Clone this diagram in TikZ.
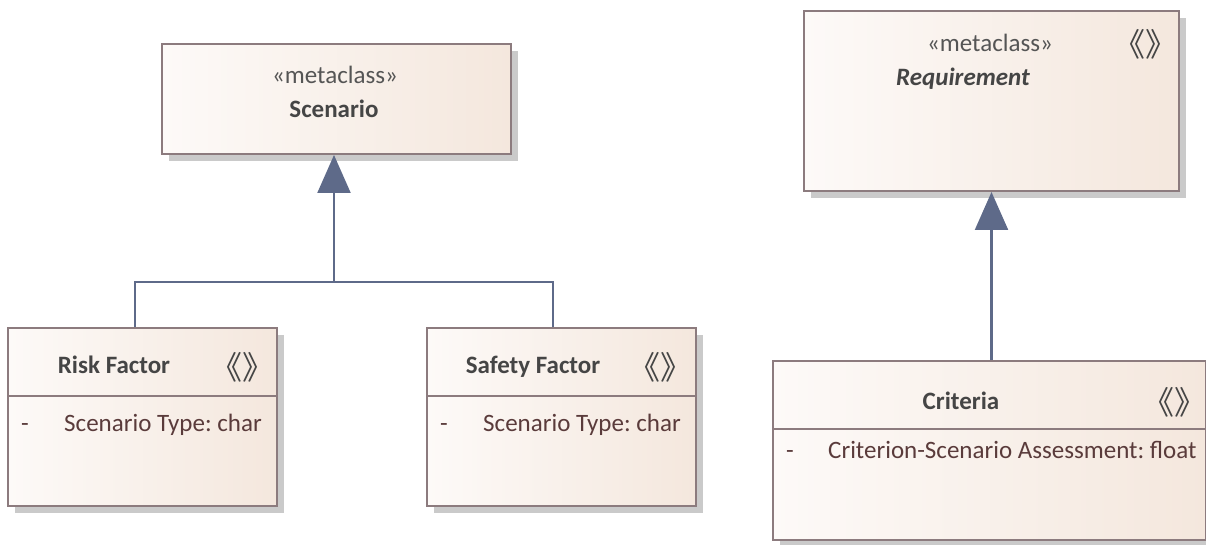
\documentclass[tikz,border=0pt]{standalone}
\usepackage{fontspec}
\setmainfont{Carlito}
\newfontfamily\cjkfont{Noto Sans CJK SC}
\usetikzlibrary{arrows.meta,shadows}
\frenchspacing

\definecolor{boxline}{HTML}{8C7B7E}
\definecolor{boxleft}{HTML}{FDFAF8}
\definecolor{boxright}{HTML}{F4E7DD}
\definecolor{shadowgray}{HTML}{CACACA}
\definecolor{connline}{HTML}{5E6A89}
\definecolor{titletext}{HTML}{454545}
\definecolor{stereotext}{HTML}{555555}
\definecolor{attrtext}{HTML}{5A3B3B}

% stereotype icon, boxed to its visible width
\newcommand{\stereoicon}{\makebox[36pt][c]{《》}}

\tikzset{
  classbox/.style={draw=boxline, line width=2pt, left color=boxleft, right color=boxright,
    anchor=north west, inner sep=0pt,
    drop shadow={shadow xshift=7pt, shadow yshift=-7pt, fill=shadowgray, opacity=1}},
  sepline/.style={draw=boxline, line width=2pt},
  labelfont/.style={font=\fontsize{25}{30}\selectfont, inner sep=0pt},
  stereolabel/.style={labelfont, text=stereotext, anchor=mid, yshift=-5pt},
  titlelabel/.style={labelfont, text=titletext, font=\fontsize{25}{30}\selectfont\bfseries, anchor=mid, yshift=-5pt},
  attrlabel/.style={labelfont, text=attrtext, anchor=mid west, yshift=-5pt},
  iconlabel/.style={inner sep=0pt, text=titletext, font=\fontsize{32}{36}\cjkfont, anchor=center},
  gen/.style={draw=connline, line width=2.2pt},
  genhead/.style={gen, -{Triangle[length=38pt, width=33pt, fill=connline]}},
}

\begin{document}
\begin{tikzpicture}[x=1pt, y=-1pt]
\useasboundingbox (0,0) rectangle (1206,545);

% class boxes
\node[classbox, minimum width=349pt, minimum height=110pt] (scenario) at (161,43) {};
\node[classbox, minimum width=375pt, minimum height=180pt] (req) at (803,10) {};
\node[classbox, minimum width=269pt, minimum height=178pt] (risk) at (7,327) {};
\node[classbox, minimum width=269pt, minimum height=178pt] (safety) at (426,327) {};
\node[classbox, minimum width=433pt, minimum height=179pt] (criteria) at (772,360) {};

% compartment separators
\draw[sepline] (risk.west |- 0,396) -- (risk.east |- 0,396);
\draw[sepline] (safety.west |- 0,396) -- (safety.east |- 0,396);
\draw[sepline] (criteria.west |- 0,429) -- (criteria.east |- 0,429);

% Scenario
\node[stereolabel] (scenariostereo) at (335,76) {«metaclass»};
\node[titlelabel] (scenarioname) at (334,110) {Scenario};

% Requirement
\node[stereolabel] (reqstereo) at (990,44) {«metaclass»};
\node[titlelabel, font=\fontsize{25}{30}\selectfont\bfseries\itshape, anchor=mid west] (reqname) at (896,78) {Requirement};
\node[iconlabel] (reqicon) at (1145,44) {\stereoicon};

% Risk Factor
\node[titlelabel] (riskname) at (114,366) {Risk Factor};
\node[iconlabel] (riskicon) at (242,367) {\stereoicon};
\node[attrlabel] (riskdash) at (21,424) {-};
\node[attrlabel] (riskattr) at (64,424) {Scenario Type: char};

% Safety Factor
\node[titlelabel] (safetyname) at (533,366) {Safety Factor};
\node[iconlabel] (safetyicon) at (660,367) {\stereoicon};
\node[attrlabel] (safetydash) at (440,424) {-};
\node[attrlabel] (safetyattr) at (483,424) {Scenario Type: char};

% Criteria
\node[titlelabel] (critname) at (961,402) {Criteria};
\node[iconlabel] (criticon) at (1174,402) {\stereoicon};
\node[attrlabel] (critdash) at (786,451) {-};
\node[attrlabel] (critattr) at (828,451) {Criterion-Scenario Assessment: float};

% generalizations
\coordinate (junction) at (334,282);
\draw[gen] ([xshift=128pt]risk.north west) |- (junction);
\draw[gen] ([xshift=127pt]safety.north west) |- (junction);
\draw[genhead] (junction) -- (junction |- scenario.south);
\draw[genhead] (req.south |- criteria.north) -- (req.south);
\end{tikzpicture}
\end{document}
